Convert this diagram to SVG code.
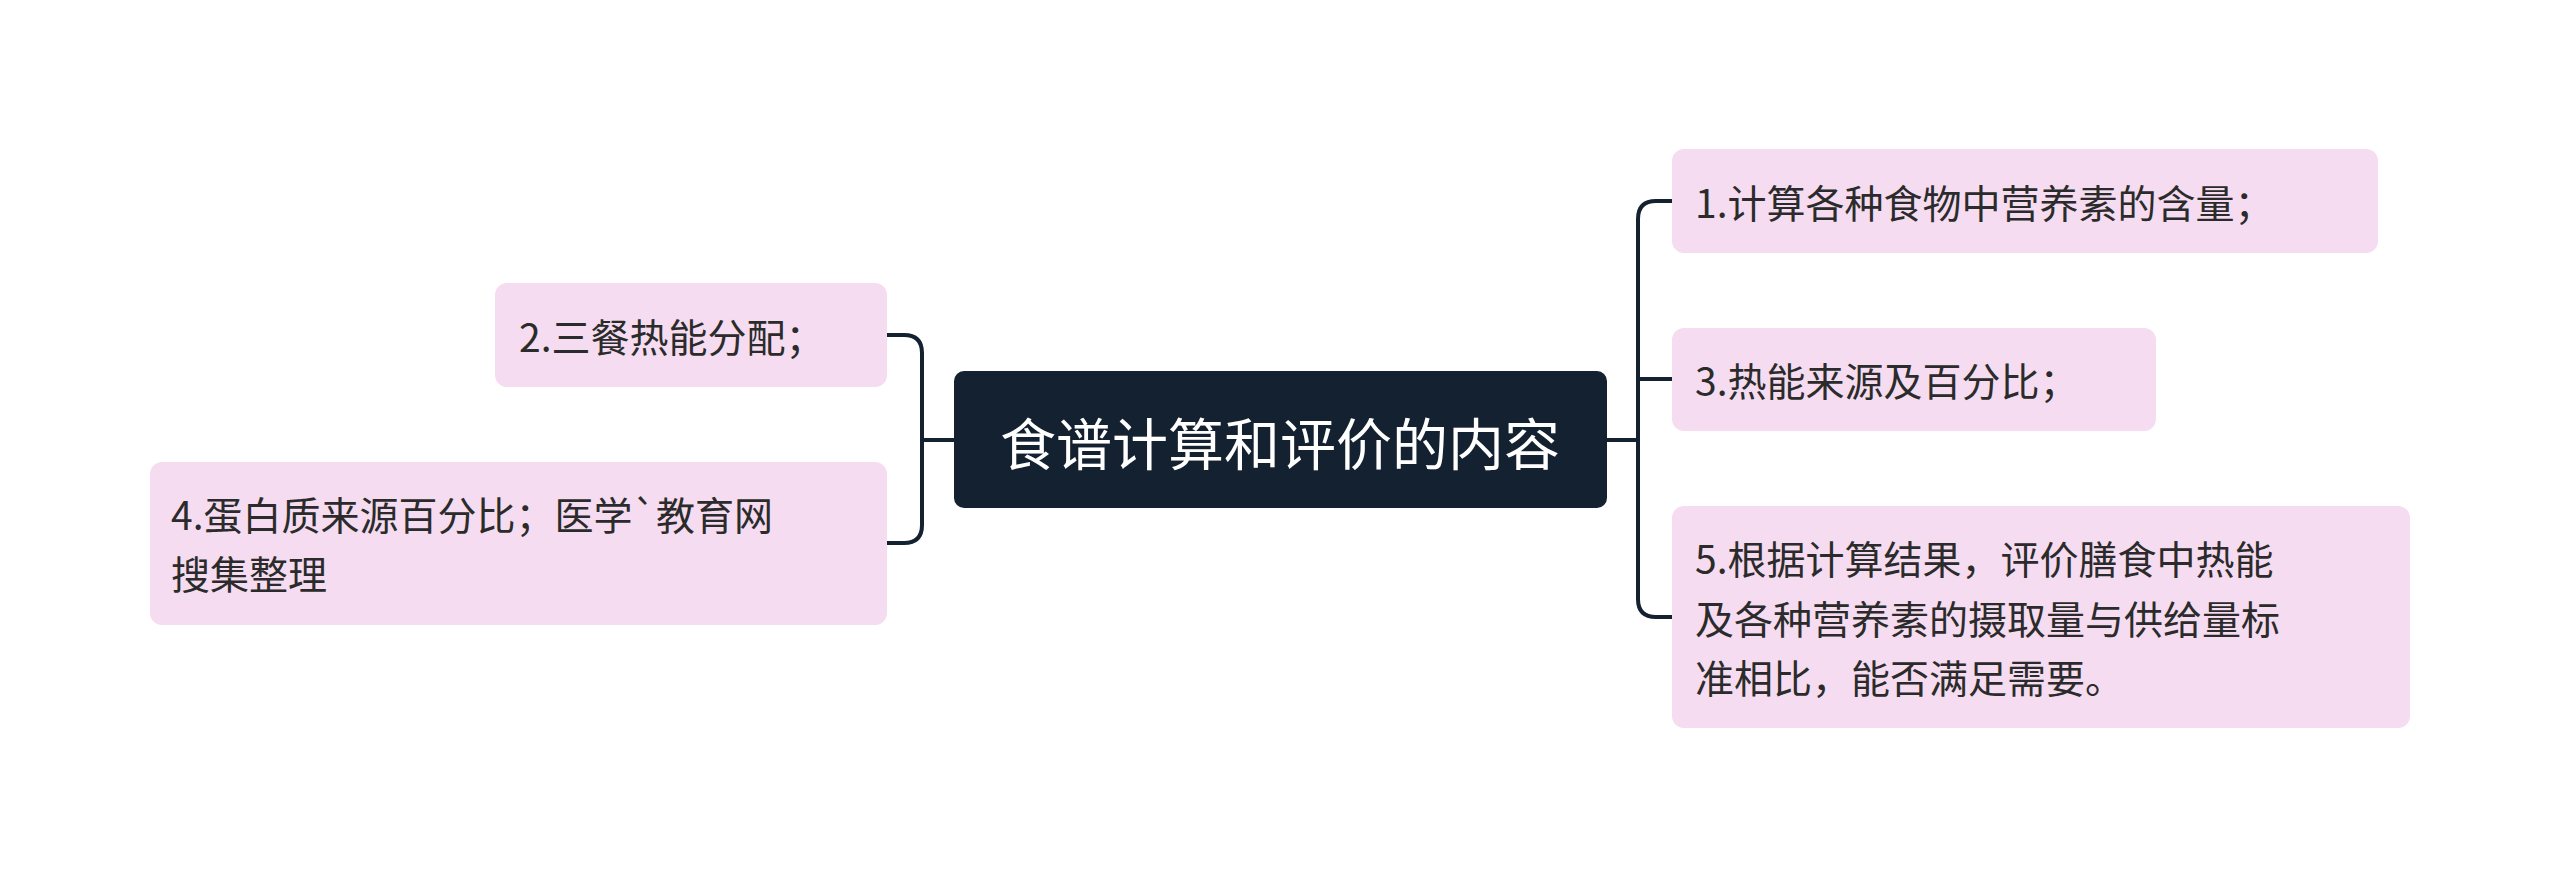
<svg xmlns="http://www.w3.org/2000/svg" width="2560" height="878" viewBox="0 0 2560 878">
<style>
.n{fill:#f5dcf0}
.t{font-family:"Noto Sans CJK SC","Noto Sans",sans-serif;font-size:39px;fill:#2b2b2b;dominant-baseline:central}
.c{fill:none;stroke:#142130;stroke-width:4}
</style>
<rect width="2560" height="878" fill="#fff"/>
<g id="connectors">
<path class="c" d="M1607 440H1638"/>
<path class="c" d="M1672 201H1656Q1638 201 1638 219V599Q1638 617 1656 617H1672"/>
<path class="c" d="M1638 379Q1638 379 1656 379H1672"/>
<path class="c" d="M954 440H922"/>
<path class="c" d="M887 335H904Q922 335 922 353V525Q922 543 904 543H887"/>
</g>
<g id="center">
<rect x="954" y="371" width="653" height="137" rx="10" fill="#142130"/>
<text x="1280" y="440" text-anchor="middle" style="font-family:'Noto Sans CJK SC',sans-serif;font-size:56px;fill:#fff;dominant-baseline:central">食谱计算和评价的内容</text>
</g>
<g id="n2"><rect class="n" x="495" y="283" width="392" height="104" rx="12"/><text class="t" x="519" y="335">2.三餐热能分配；</text></g>
<g id="n4"><rect class="n" x="150" y="462" width="737" height="163" rx="12"/><text class="t" x="171" y="513">4.蛋白质来源百分比；医学`教育网</text><text class="t" x="171" y="572">搜集整理</text></g>
<g id="n1"><rect class="n" x="1672" y="149" width="706" height="104" rx="12"/><text class="t" x="1695" y="201">1.计算各种食物中营养素的含量；</text></g>
<g id="n3"><rect class="n" x="1672" y="328" width="484" height="103" rx="12"/><text class="t" x="1695" y="379">3.热能来源及百分比；</text></g>
<g id="n5"><rect class="n" x="1672" y="506" width="738" height="222" rx="12"/><text class="t" x="1695" y="557">5.根据计算结果，评价膳食中热能</text><text class="t" x="1695" y="617">及各种营养素的摄取量与供给量标</text><text class="t" x="1695" y="676">准相比，能否满足需要。</text></g>
</svg>
